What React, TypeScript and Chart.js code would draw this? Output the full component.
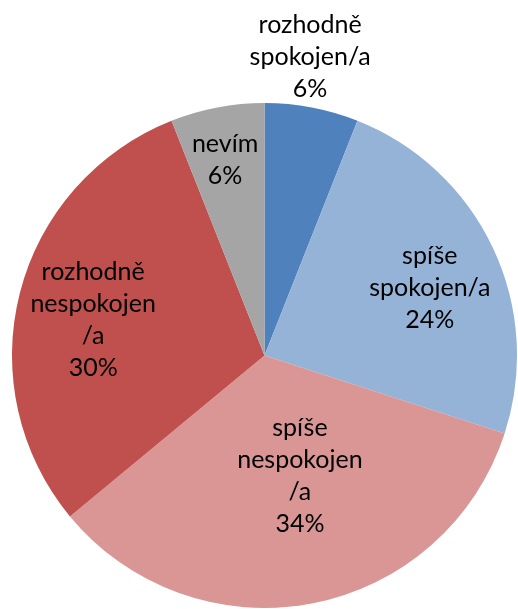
import React, { useEffect, useRef } from "react";
import { Chart, registerables } from "chart.js";

Chart.register(...registerables);

const categories = [
  "rozhodně spokojen/a",
  "spíše spokojen/a",
  "spíše nespokojen/a",
  "rozhodně nespokojen/a",
  "nevím",
];
const values = [6, 24, 34, 30, 6];
const labelLines = [
  ["rozhodně", "spokojen/a"],
  ["spíše", "spokojen/a"],
  ["spíše", "nespokojen", "/a"],
  ["rozhodně", "nespokojen", "/a"],
  ["nevím"],
];
const colors = ["#4F81BD", "#95B3D7", "#D99694", "#C0504D", "#A5A5A5"];

// label placement: radial fraction of outer radius and angle shift (degrees)
const labelRadius = [1.195, 0.707, 0.497, 0.693, 0.79];
const labelShift = [-2.1, 3.0, -5.6, -2.7, -0.6];

const FONT = "25px Lato";
const LINE_H = 32;

const labelPlugin = {
  id: "sliceLabels",
  afterDatasetsDraw(chart: any) {
    const ctx = chart.ctx;
    const meta = chart.getDatasetMeta(0);
    const total = values.reduce((a, b) => a + b, 0);
    ctx.save();
    ctx.font = FONT;
    ctx.fillStyle = "#000000";
    ctx.textAlign = "center";
    ctx.textBaseline = "middle";
    meta.data.forEach((arc: any, i: number) => {
      const p = arc.getProps(["x", "y", "startAngle", "endAngle", "outerRadius"], true);
      const mid = (p.startAngle + p.endAngle) / 2 + (labelShift[i] * Math.PI) / 180;
      const r = p.outerRadius * labelRadius[i];
      const cx = p.x + Math.cos(mid) * r;
      const cy = p.y + Math.sin(mid) * r;
      const lines = [...labelLines[i], Math.round((values[i] / total) * 100) + "%"];
      const startY = cy - ((lines.length - 1) * LINE_H) / 2;
      lines.forEach((t, j) => ctx.fillText(t, cx, startY + j * LINE_H));
    });
    ctx.restore();
  },
};

export default function App() {
  const ref = useRef<HTMLCanvasElement>(null);
  useEffect(() => {
    document.body.style.margin = "0";
    const chart = new Chart(ref.current!, {
      type: "pie",
      data: {
        labels: categories,
        datasets: [
          {
            data: values,
            backgroundColor: colors,
            borderWidth: 0,
          },
        ],
      },
      options: {
        animation: false,
        responsive: false,
        maintainAspectRatio: false,
        layout: { padding: { top: 103, left: 11, right: 0, bottom: 1 } },
        plugins: {
          legend: { display: false },
          tooltip: { enabled: false },
        },
      },
      plugins: [labelPlugin],
    });
    return () => chart.destroy();
  }, []);
  return (
    <div style={{ position: "absolute", left: 0, top: 0, width: 518, height: 609, background: "#fff" }}>
      <canvas ref={ref} width={518} height={609} style={{ width: 518, height: 609, display: "block" }} />
    </div>
  );
}
